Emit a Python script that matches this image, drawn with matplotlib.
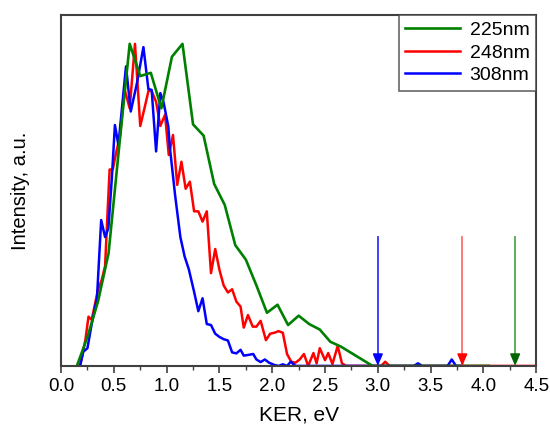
import matplotlib
matplotlib.use("Agg")
from matplotlib import pyplot as plt
from matplotlib.ticker import MultipleLocator

plt.rcParams['font.family'] = ['Liberation Sans', 'DejaVu Sans']

# 225 nm spectrum
x_225 = [0.15, 0.25, 0.35, 0.45, 0.55, 0.65, 0.75, 0.85, 0.95, 1.05, 1.15,
         1.25, 1.35, 1.45, 1.55, 1.65, 1.75, 1.85, 1.95, 2.05, 2.15, 2.25,
         2.35, 2.45, 2.55, 2.65, 2.75, 2.85, 2.95, 4.05]
y_225 = [0.0, 0.09, 0.2, 0.35, 0.68, 1.0, 0.9, 0.91, 0.8, 0.96, 1.0,
         0.75, 0.715, 0.565, 0.5, 0.375, 0.33, 0.25, 0.165, 0.19, 0.127, 0.156,
         0.13, 0.113, 0.075, 0.06, 0.04, 0.02, 0.0, 0.0]

# 248 nm spectrum
x_248 = [0.18, 0.20, 0.23, 0.26, 0.29, 0.32, 0.35, 0.385, 0.417, 0.44, 0.46,
         0.49, 0.52, 0.56, 0.60, 0.65, 0.70, 0.75, 0.79, 0.83, 0.86, 0.90,
         0.94, 0.985, 1.02, 1.06, 1.10, 1.14, 1.18, 1.22, 1.26, 1.30, 1.34,
         1.38, 1.42, 1.46, 1.50, 1.54, 1.58, 1.62, 1.66, 1.70, 1.73, 1.77,
         1.815, 1.85, 1.89, 1.94, 1.98, 2.02, 2.06, 2.10, 2.14, 2.18, 2.22,
         2.26, 2.30, 2.34, 2.39, 2.42, 2.45, 2.50, 2.53, 2.57, 2.62, 2.66,
         2.70, 3.03, 3.07, 3.11, 4.5]
y_248 = [0.0, 0.03, 0.08, 0.153, 0.143, 0.19, 0.236, 0.267, 0.31, 0.474, 0.61,
         0.61, 0.66, 0.717, 0.86, 0.8, 1.0, 0.745, 0.8, 0.857, 0.852, 0.82,
         0.745, 0.78, 0.655, 0.717, 0.562, 0.634, 0.55, 0.572, 0.48, 0.48, 0.448,
         0.48, 0.288, 0.363, 0.298, 0.25, 0.228, 0.238, 0.2, 0.184, 0.119, 0.158,
         0.122, 0.122, 0.14, 0.08, 0.1, 0.103, 0.108, 0.103, 0.037, 0.013, 0.01,
         0.02, 0.037, 0.0, 0.04, 0.008, 0.055, 0.018, 0.04, 0.006, 0.062, 0.008,
         0.0, 0.0, 0.013, 0.0, 0.0]

# 308 nm spectrum
x_308 = [0.18, 0.21, 0.25, 0.29, 0.34, 0.38, 0.417, 0.448, 0.48, 0.51, 0.543,
         0.615, 0.66, 0.72, 0.78, 0.827, 0.858, 0.90, 0.94, 0.97, 1.016, 1.03,
         1.064, 1.08, 1.13, 1.17, 1.21, 1.26, 1.30, 1.34, 1.38, 1.42, 1.46,
         1.50, 1.54, 1.58, 1.62, 1.66, 1.70, 1.73, 1.77, 1.82, 1.85, 1.89,
         1.93, 1.97, 2.02, 2.06, 2.10, 2.14, 2.175, 2.22, 3.34, 3.38, 3.42,
         3.66, 3.70, 3.74, 3.80]
y_308 = [0.0, 0.044, 0.055, 0.13, 0.21, 0.453, 0.4, 0.427, 0.578, 0.748, 0.686,
         0.93, 0.79, 0.88, 0.99, 0.86, 0.857, 0.666, 0.847, 0.82, 0.743, 0.68,
         0.578, 0.53, 0.4, 0.34, 0.3, 0.23, 0.17, 0.21, 0.13, 0.127, 0.1,
         0.09, 0.083, 0.079, 0.042, 0.039, 0.05, 0.032, 0.034, 0.037, 0.02, 0.012,
         0.02, 0.01, 0.003, 0.0, 0.005, 0.0, 0.013, 0.0, 0.0, 0.008, 0.0,
         0.0, 0.02, 0.0, 0.0]

# threshold arrows (position, shaft colour, head colour)
arrow_x = [3.0, 3.8, 4.3]
arrow_top = 0.40
arrow_shaft = ['#3030ff', '#ff7070', '#50a850']
arrow_head = ['#0000ff', '#ff0000', '#006400']

fig = plt.figure(figsize=(5.5, 4.25), dpi=100)
ax = fig.add_axes([0.111, 0.139, 0.864, 0.826])

l248, = ax.plot(x_248, y_248, color='#ff0000', lw=1.8, label='248nm')
l308, = ax.plot(x_308, y_308, color='#0000ff', lw=1.8, label='308nm')
l225, = ax.plot(x_225, y_225, color='#008000', lw=1.9, label='225nm')

for xa, cs, ch in zip(arrow_x, arrow_shaft, arrow_head):
    ax.plot([xa, xa], [arrow_top, 0.03], color=cs, lw=1.3, zorder=4)
    ax.annotate('', xy=(xa, 0.0), xytext=(xa, 0.035),
                arrowprops=dict(arrowstyle='-|>,head_length=0.7,head_width=0.3',
                                color=ch, lw=1.2, shrinkA=0, shrinkB=0),
                zorder=5)

ax.set_xlim(0, 4.5)
ax.set_ylim(0, 1.09)
ax.xaxis.set_major_locator(MultipleLocator(0.5))
ax.xaxis.set_minor_locator(MultipleLocator(0.25))
ax.set_yticks([])
ax.tick_params(axis='x', which='major', length=5, width=1.2, color='#404040',
               labelsize=13.5, direction='out', pad=4)
ax.tick_params(axis='x', which='minor', length=3, width=1.0, color='#404040')
for sp in ax.spines.values():
    sp.set_color('#404040')
    sp.set_linewidth(1.5)

ax.set_xlabel('KER, eV', fontsize=15, labelpad=7)
ax.set_ylabel('Intensity, a.u.', fontsize=14.5, labelpad=22)

leg = ax.legend(handles=[l225, l248, l308], loc='upper right', fontsize=14,
                frameon=True, fancybox=False, borderaxespad=0,
                handlelength=2.8, handletextpad=0.5, labelspacing=0.25,
                borderpad=0.35)
leg.get_frame().set_edgecolor('#404040')
leg.get_frame().set_linewidth(1.2)

fig.savefig('out.png', dpi=100)
